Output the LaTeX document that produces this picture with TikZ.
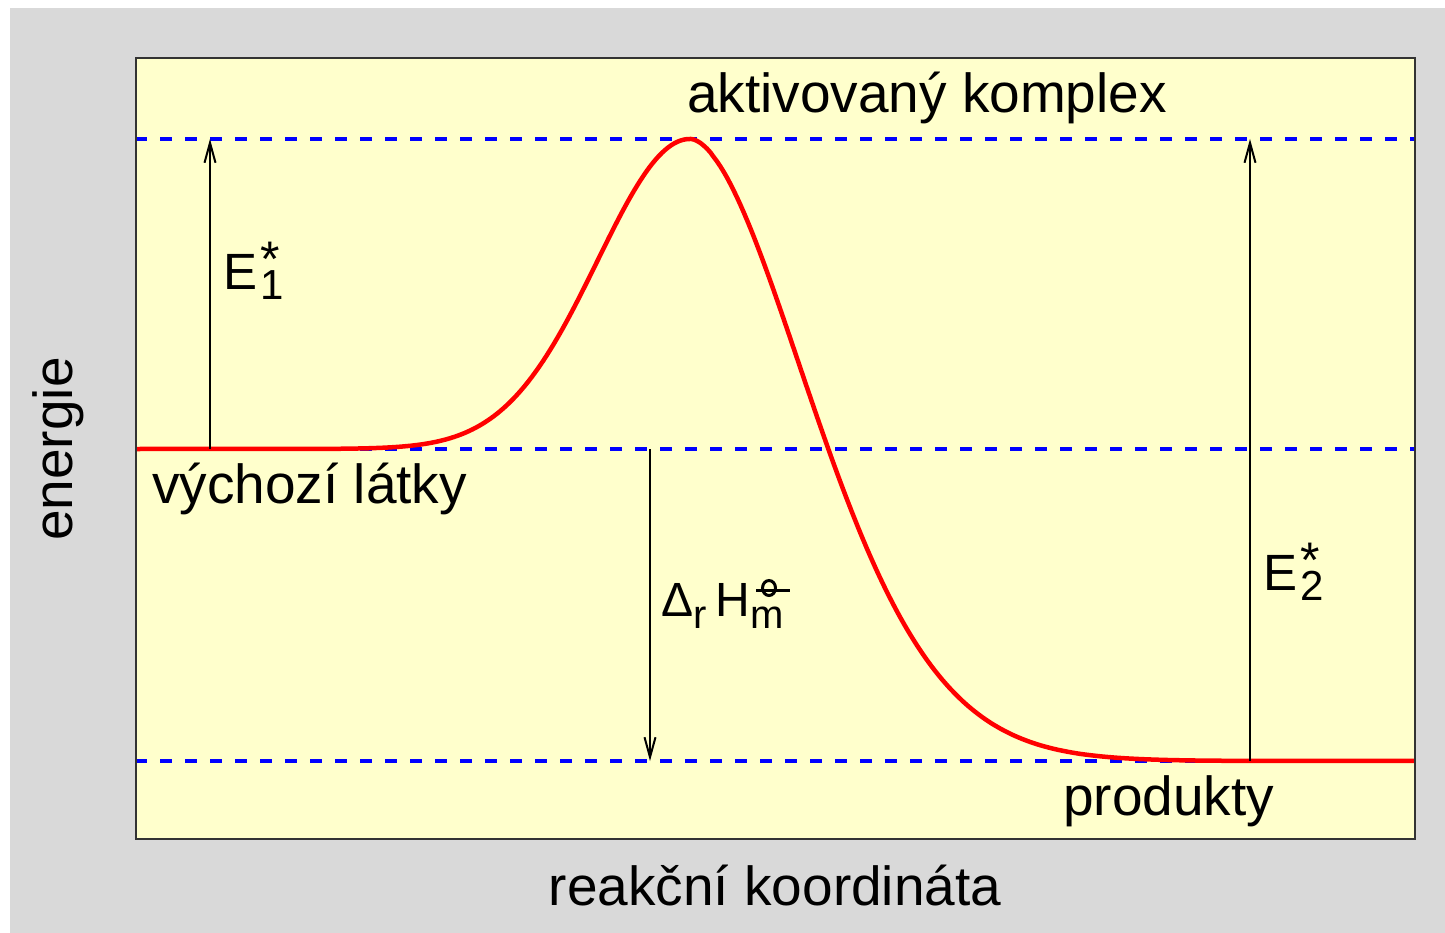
\documentclass[tikz,border=0pt]{standalone}
\usepackage{fontspec}
\setmainfont{Liberation Sans}
\usetikzlibrary{arrows.meta}
\definecolor{bggray}{RGB}{217,217,217}
\definecolor{plotyellow}{RGB}{255,255,204}
\definecolor{dashblue}{RGB}{0,0,255}
\definecolor{curvered}{RGB}{255,0,0}
\tikzset{
  lbl/.style={inner sep=0pt, font=\fontsize{55}{60}\selectfont},
  level/.style={draw=dashblue, line width=3.5pt, dash pattern=on 12pt off 13pt},
  curve/.style={draw=curvered, line width=4.5pt, line join=round},
  dimarrow/.style={draw=black, line width=2pt, -{Straight Barb[length=20pt,width=11pt]}},
  frame/.style={draw=black!80, line width=2pt}
}
\newcommand{\bigf}{\fontsize{51}{51}\selectfont}
\newcommand{\subf}{\fontsize{42}{42}\selectfont}
\newcommand{\starf}{\fontsize{50}{50}\selectfont}
\begin{document}
\begin{tikzpicture}[x=1pt,y=-1pt]
\useasboundingbox (0,0) rectangle (1445,933);
\fill[bggray] (10,8) rectangle (1445,933);
\fill[plotyellow] (136,58) rectangle (1415,839);
% levels
\coordinate (l1a) at (135,139); \coordinate (l1b) at (1415,139);
\coordinate (l2a) at (135,449); \coordinate (l2b) at (1415,449);
\coordinate (l3a) at (135,761); \coordinate (l3b) at (1415,761);
\draw[level] (l1a) -- (l1b);
\draw[level] (l2a) -- (l2b);
\draw[level] (l3a) -- (l3b);
% curve
\draw[curve] (136,449) -- plot[domain=320:690, samples=120] (\x,{449-310*exp(-0.5*((\x-690)/92.6)^2)})
  -- plot[domain=690.5:1415, samples=220] (\x,{761-622*exp(-1*pow((\x-690)/170,1.8))});
% arrows
\coordinate (e1s) at (210,449); \coordinate (e1e) at (210,139);
\coordinate (e2s) at (1250,761); \coordinate (e2e) at (1250,139);
\coordinate (hs) at (650,449); \coordinate (he) at (650,761);
\draw[dimarrow] (e1s) -- (e1e);
\draw[dimarrow] (e2s) -- (e2e);
\draw[dimarrow] (hs) -- (he);
% frame
\draw[frame] (136,58) rectangle (1415,839);
% labels
\node[lbl, anchor=base] (ak) at (927,113) {aktivovaný komplex};
\node[lbl, anchor=base west] (vl) at (152,503) {výchozí látky};
\node[lbl, anchor=base west] (pr) at (1063,815) {produkty};
\node[lbl, anchor=base] (rk) at (775,905) {reakční koordináta};
\node[lbl, rotate=90, anchor=base] (en) at (72,449) {energie};
\node[lbl, anchor=base west] (E1) at (223,289) {{\bigf E}\kern3pt\rlap{\raisebox{13pt}{\starf *}}\raisebox{-10pt}{\subf 1}};
\node[lbl, anchor=base west] (E2) at (1263,590) {{\bigf E}\kern3pt\rlap{\raisebox{13pt}{\starf *}}\raisebox{-10pt}{\subf 2}};
\node[lbl, anchor=base west] (dH) at (661,616) {{\fontsize{48}{48}\selectfont Δ}\raisebox{-12pt}{\fontsize{40}{40}\selectfont r}\kern9pt{\fontsize{48}{48}\selectfont H}\raisebox{-12pt}{\fontsize{40}{40}\selectfont m}};
% standard-state symbol
\draw[line width=3pt] (769,588) ellipse (6.5 and 7.5);
\draw[line width=3pt] (756,590) -- (790,590);
\end{tikzpicture}
\end{document}
